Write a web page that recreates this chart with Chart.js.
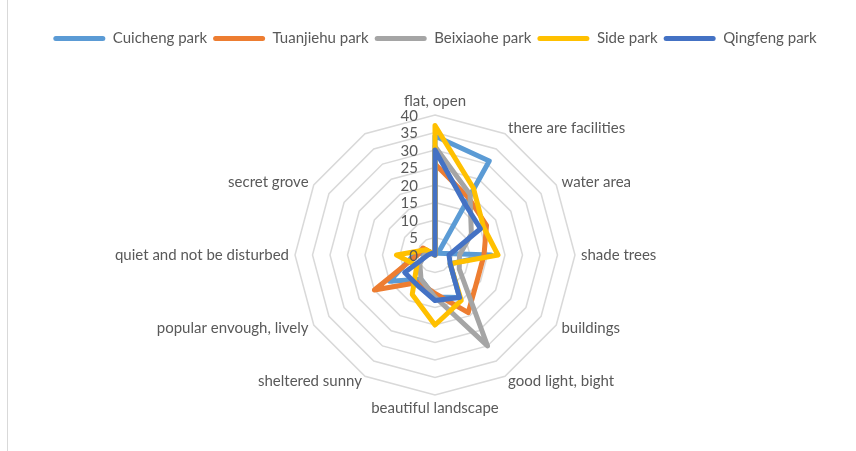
<!DOCTYPE html>
<html>
<head>
<meta charset="utf-8">
<title>Park perception radar</title>
<script src="https://cdn.jsdelivr.net/npm/chart.js@4/dist/chart.umd.min.js"></script>
<style>
  html, body { margin: 0; padding: 0; background: #ffffff; }
  #wrap { width: 856px; height: 451px; position: relative; }
</style>
</head>
<body>
<div id="wrap"><canvas id="chart" width="856" height="451"></canvas></div>
<script>
// Perception categories around the radar (last spoke has no name and no score)
const categories = [
  'flat, open',
  'there are facilities',
  'water area',
  'shade trees',
  'buildings',
  'good light, bight',
  'beautiful landscape',
  'sheltered sunny',
  'popular envough, lively',
  'quiet and not be disturbed',
  'secret grove',
  ''
];

// Radial axis tick labels
const tickValues = [0, 5, 10, 15, 20, 25, 30, 35, 40];

// Scores per park, one value per category
const cuicheng  = [34, 31, 1, 16, 5, 14, 12, 8, 15, 6, 2, 0];
const tuanjiehu = [26, 19, 17, 14, 14, 19, 11, 9, 20, 5, 4, 0];
const beixiaohe = [31, 20, 12, 7, 8, 30, 12, 8, 5, 3, 2, 0];
const side      = [37, 22, 16, 18, 5, 15, 20, 13, 6, 11, 3, 0];
const qingfeng  = [30, 17, 15, 4, 5, 14, 13, 10, 10, 2, 1, 0];

const seriesNames = ['Cuicheng park', 'Tuanjiehu park', 'Beixiaohe park', 'Side park', 'Qingfeng park'];
const seriesData = [cuicheng, tuanjiehu, beixiaohe, side, qingfeng];
const seriesColors = ['#5B9BD5', '#ED7D31', '#A5A5A5', '#FFC000', '#4472C4'];

const FONT_FAMILY = 'Lato, "Open Sans", "DejaVu Sans", sans-serif';
const TEXT_COLOR = '#595959';
const GRID_COLOR = '#D9D9D9';

// Thin frame line on the left edge of the chart
const frameLine = {
  id: 'frameLine',
  beforeDraw(chart) {
    const ctx = chart.ctx;
    ctx.save();
    ctx.fillStyle = '#ffffff';
    ctx.fillRect(0, 0, chart.width, chart.height);
    ctx.strokeStyle = GRID_COLOR;
    ctx.lineWidth = 1;
    ctx.beginPath();
    ctx.moveTo(7.5, 0);
    ctx.lineTo(7.5, chart.height);
    ctx.stroke();
    ctx.restore();
  }
};

// Category names outside the outer ring and value labels left of the vertical spoke
const radarText = {
  id: 'radarText',
  afterDatasetsDraw(chart) {
    const s = chart.scales.r;
    const ctx = chart.ctx;
    ctx.save();
    ctx.fillStyle = TEXT_COLOR;
    ctx.font = '15px ' + FONT_FAMILY;
    categories.forEach((name, i) => {
      if (!name) return;
      const p = s.getPointPosition(i, s.drawingArea + 6);
      const dx = p.x - s.xCenter;
      const dy = p.y - s.yCenter;
      if (Math.abs(dx) < 1) {
        ctx.textAlign = 'center';
        ctx.textBaseline = dy < 0 ? 'bottom' : 'top';
      } else {
        ctx.textAlign = dx > 0 ? 'left' : 'right';
        ctx.textBaseline = 'middle';
      }
      ctx.fillText(name, p.x, p.y);
    });
    ctx.textAlign = 'right';
    ctx.textBaseline = 'middle';
    tickValues.forEach(v => {
      const y = s.yCenter - s.getDistanceFromCenterForValue(v);
      ctx.fillText(String(v), s.xCenter - 17, y + 1);
    });
    ctx.restore();
  }
};

const datasets = seriesNames.map((name, i) => ({
  label: name,
  data: seriesData[i],
  borderColor: seriesColors[i],
  backgroundColor: seriesColors[i],
  borderWidth: 5,
  fill: false,
  pointRadius: 0,
  pointHoverRadius: 0,
  order: seriesNames.length - i
}));

new Chart(document.getElementById('chart'), {
  type: 'radar',
  data: { labels: categories, datasets },
  options: {
    responsive: false,
    animation: false,
    events: [],
    layout: { padding: { left: 14, right: 0, top: 25, bottom: 55 } },
    elements: {
      line: { tension: 0, borderJoinStyle: 'round', borderCapStyle: 'round' }
    },
    scales: {
      r: {
        min: 0,
        max: 40,
        ticks: { stepSize: 5, display: false },
        grid: { color: GRID_COLOR, lineWidth: 1.5, circular: false },
        angleLines: { display: false },
        pointLabels: { display: false }
      }
    },
    plugins: {
      tooltip: { enabled: false },
      title: {
        display: true,
        text: '',
        position: 'top',
        weight: 500,
        font: { size: 10 },
        padding: { top: 0, bottom: 47 }
      },
      legend: {
        display: true,
        position: 'top',
        labels: {
          boxWidth: 52,
          boxHeight: 5,
          padding: 6,
          color: TEXT_COLOR,
          font: { family: FONT_FAMILY, size: 15 },
          useBorderRadius: true,
          borderRadius: 2.5,
          sort: (a, b) => a.datasetIndex - b.datasetIndex,
          generateLabels(chart) {
            const base = Chart.defaults.plugins.legend.labels.generateLabels(chart);
            return base.map(item => Object.assign({}, item, {
              fillStyle: item.strokeStyle,
              lineWidth: 0
            }));
          }
        }
      }
    }
  },
  plugins: [frameLine, radarText]
});
</script>
</body>
</html>
